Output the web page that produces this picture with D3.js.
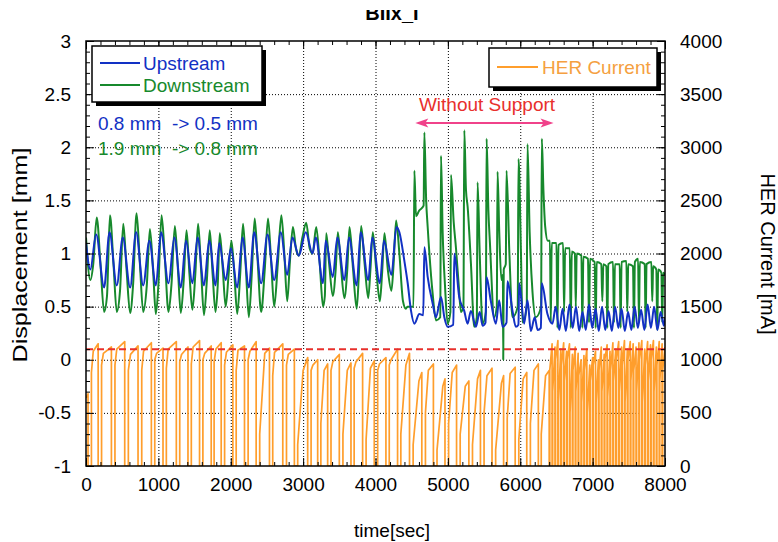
<!DOCTYPE html>
<html><head><meta charset="utf-8">
<script src="https://cdn.jsdelivr.net/npm/d3@7"></script>
<style>
body{margin:0;background:#fff;}
svg{display:block;font-family:"Liberation Sans",Arial,sans-serif;}
</style>
</head><body>
<svg id="c" width="778" height="542"></svg>
<script>
// ---- data (time [s], value) ----
const downstream = [
[0,1.15],[60,0.75],[100,0.9],[148,1.34],[200,0.9],[250,0.45],[290,0.6],[331,1.36],[380,0.9],[425,0.45],[470,0.65],[515,1.28],[560,0.85],[610,0.44],[650,0.7],[699,1.38],[745,0.9],[790,0.45],[840,0.7],[883,1.23],[930,0.8],[965,0.43],[1000,0.7],[1044,1.36],[1090,0.95],[1140,0.45],[1180,0.7],[1228,1.26],[1270,0.85],[1310,0.44],[1350,0.75],[1389,1.22],[1430,0.8],[1470,0.47],[1510,0.8],[1549,1.28],[1590,0.85],[1630,0.42],[1670,0.75],[1710,1.22],[1750,0.8],[1790,0.45],[1820,0.7],[1848,1.19],[1890,0.85],[1930,0.5],[1970,0.8],[2009,1.12],[2050,0.8],[2090,0.43],[2130,0.8],[2170,1.28],[2210,0.85],[2250,0.4],[2290,0.8],[2331,1.33],[2370,0.95],[2420,0.45],[2470,0.85],[2515,1.33],[2560,0.9],[2600,0.5],[2650,0.9],[2699,1.36],[2740,1.0],[2780,0.55],[2820,0.95],[2859,1.25],[2900,1.05],[2940,0.98],[2990,1.15],[3043,1.29],[3090,1.05],[3130,1.0],[3181,1.25],[3230,0.9],[3275,0.5],[3300,0.6],[3319,1.19],[3360,0.9],[3410,0.6],[3450,0.85],[3480,1.2],[3520,0.9],[3570,0.58],[3610,0.85],[3641,1.25],[3690,0.85],[3740,0.48],[3770,0.8],[3802,1.26],[3850,0.9],[3900,0.58],[3930,0.85],[3963,1.2],[4010,0.85],[4060,0.55],[4090,0.8],[4124,1.19],[4170,0.85],[4220,0.65],[4250,0.9],[4285,1.31],[4330,1.0],[4380,0.55],[4420,0.48],[4440,0.5],
[4525,0.5],[4537,1.78],[4560,1.35],[4600,1.4],[4665,1.45],[4675,2.14],[4700,1.5],[4721,1.25],[4790,0.62],[4836,0.37],[4895,0.4],[4905,1.92],[4928,1.2],[4960,0.7],[4997,0.34],[5035,0.45],[5043,1.74],[5080,1.3],[5112,1.05],[5150,0.7],[5181,0.45],[5215,0.5],[5227,2.16],[5250,1.6],[5273,1.44],[5319,0.9],[5364,0.31],[5400,0.4],[5410,1.67],[5440,1.0],[5479,0.34],[5525,0.45],[5535,2.08],[5560,1.4],[5581,1.1],[5640,0.4],[5676,0.5],[5686,1.77],[5710,1.2],[5740,0.75],[5760,0.8],[5765,0.0],[5772,0.85],[5800,0.9],[5810,1.78],[5850,1.0],[5893,0.4],[5965,0.5],[5976,1.89],[6010,1.0],[6031,0.35],[6090,0.5],[6100,2.03],[6130,1.2],[6169,0.64],[6215,0.4],[6288,0.5],[6298,2.08],[6320,1.6],[6345,1.25],[6380,1.12],
[6410,1.12],[6422,0.35],[6435,1.1],[6500,1.1],[6514,0.3],[6528,1.08],[6592,1.1],[6606,0.45],[6620,1.05],[6684,1.05],[6698,0.3],[6712,1.02],[6755,1.0],[6767,0.5],[6780,1.0],[6845,0.98],[6858,0.3],[6872,0.97],[6936,0.95],[6950,0.35],[6964,0.95],[7028,0.92],[7042,0.3],[7056,0.92],[7120,0.9],[7134,0.55],[7148,0.9],[7190,0.88],[7203,0.3],[7216,0.9],[7282,0.92],[7295,0.35],[7308,0.9],[7374,0.9],[7387,0.3],[7400,0.92],[7466,0.93],[7479,0.45],[7492,0.9],[7558,0.88],[7571,0.3],[7584,0.92],[7628,0.95],[7640,0.35],[7652,0.92],[7720,0.9],[7732,0.3],[7745,0.9],[7812,0.92],[7824,0.55],[7836,0.88],[7880,0.85],[7893,0.28],[7906,0.85],[7950,0.82],[7962,0.35],[7975,0.82],[8000,0.8]
];
const upstream = [
[0,1.1],[60,0.85],[140,1.18],[250,0.68],[325,1.2],[425,0.7],[508,1.15],[610,0.68],[692,1.2],[790,0.7],[876,1.12],[965,0.7],[1037,1.2],[1140,0.72],[1221,1.15],[1310,0.68],[1382,1.12],[1470,0.72],[1542,1.15],[1630,0.7],[1703,1.12],[1790,0.7],[1841,1.1],[1930,0.75],[2002,1.05],[2090,0.68],[2163,1.15],[2250,0.68],[2324,1.2],[2420,0.72],[2508,1.18],[2600,0.75],[2692,1.2],[2780,0.8],[2852,1.15],[2940,0.98],[3036,1.2],[3130,1.0],[3174,1.15],[3275,0.72],[3312,1.12],[3410,0.78],[3473,1.15],[3570,0.75],[3634,1.15],[3740,0.7],[3795,1.2],[3900,0.75],[3956,1.15],[4060,0.72],[4117,1.12],[4220,0.8],[4290,1.25],[4330,1.2],
[4399,0.93],[4445,0.72],[4491,0.46],[4537,0.34],[4606,0.43],[4660,0.42],[4675,1.06],[4721,0.78],[4790,0.53],[4836,0.4],[4905,0.59],[4951,0.4],[4997,0.31],[5075,0.33],[5089,1.0],[5157,0.59],[5226,0.46],[5272,0.34],[5318,0.46],[5387,0.31],[5440,0.45],[5480,0.32],[5520,0.35],[5534,0.78],[5594,0.55],[5663,0.34],[5709,0.56],[5755,0.31],[5810,0.35],[5824,0.74],[5893,0.46],[5939,0.31],[5975,0.33],[5985,0.72],[6054,0.34],[6100,0.56],[6146,0.27],[6200,0.4],[6240,0.28],[6285,0.3],[6297,0.72],[6376,0.43],[6445,0.34],
[6490,0.5],[6540,0.28],[6585,0.48],[6630,0.27],[6680,0.52],[6725,0.3],[6770,0.5],[6815,0.27],[6860,0.45],[6905,0.28],[6950,0.52],[6995,0.3],[7040,0.48],[7085,0.27],[7130,0.5],[7175,0.28],[7220,0.46],[7265,0.27],[7310,0.5],[7355,0.3],[7400,0.48],[7445,0.27],[7490,0.45],[7535,0.28],[7580,0.5],[7625,0.3],[7670,0.47],[7715,0.28],[7760,0.52],[7805,0.3],[7850,0.5],[7895,0.28],[7940,0.45],[7985,0.32],[8000,0.4]
];
const herCurrent = [
[0,640],[28,680],[28,0],[75,0],[75,880],[100,1080],[168,1150],[168,0],
[215,0],[215,950],[240,1060],[351,1120],[351,0],
[400,0],[400,950],[425,1100],[535,1170],[535,0],
[585,0],[585,900],[615,1050],[719,1130],[719,0],
[770,0],[770,900],[795,1080],[903,1160],[903,0],
[950,0],[950,1000],[975,1060],[1064,1110],[1064,0],
[1110,0],[1110,920],[1135,1100],[1248,1170],[1248,0],
[1295,0],[1295,980],[1320,1050],[1409,1120],[1409,0],
[1455,0],[1455,960],[1480,1120],[1569,1180],[1569,0],
[1615,0],[1615,1000],[1640,1060],[1730,1130],[1730,0],
[1770,0],[1770,980],[1795,1100],[1868,1160],[1868,0],
[1915,0],[1915,950],[1940,1070],[2029,1140],[2029,0],
[2075,0],[2075,900],[2100,1090],[2190,1130],[2190,0],
[2240,0],[2240,1000],[2265,1080],[2351,1170],[2351,0],
[2400,0],[2400,300],[2470,1060],[2535,1110],[2535,0],
[2580,0],[2580,850],[2605,1070],[2719,1150],[2719,0],
[2770,0],[2770,950],[2795,1050],[2879,1100],[2879,0],
[2925,0],[2925,200],[3000,900],[3063,1020],[3063,0],
[3110,0],[3110,900],[3135,950],[3201,1000],[3201,0],
[3245,0],[3245,400],[3290,900],[3339,960],[3339,0],
[3385,0],[3385,900],[3410,980],[3500,1050],[3500,0],
[3550,0],[3550,300],[3610,900],[3661,970],[3661,0],
[3705,0],[3705,920],[3730,980],[3822,1060],[3822,0],
[3870,0],[3870,250],[3930,920],[3983,990],[3983,0],
[4030,0],[4030,900],[4055,960],[4144,1020],[4144,0],
[4190,0],[4190,950],[4215,1000],[4305,1100],[4305,0],
[4350,0],[4350,300],[4420,950],[4470,1060],[4470,0],
[4520,0],[4520,200],[4600,800],[4640,880],[4640,0],
[4690,0],[4690,500],[4730,900],[4800,960],[4800,0],
[4850,0],[4850,150],[4930,750],[4960,820],[4960,0],
[5010,0],[5010,400],[5060,880],[5120,950],[5120,0],
[5170,0],[5170,300],[5240,750],[5290,800],[5290,0],
[5340,0],[5340,200],[5410,820],[5450,900],[5450,0],
[5500,0],[5500,500],[5540,850],[5610,920],[5610,0],
[5660,0],[5660,150],[5740,780],[5770,850],[5770,0],
[5820,0],[5820,450],[5860,870],[5930,930],[5930,0],
[5980,0],[5980,250],[6040,820],[6090,880],[6090,0],
[6140,0],[6140,400],[6190,900],[6250,960],[6250,0],
[6290,0],[6290,300],[6350,850],[6400,900],[6400,0],
[6408,0],[6408,900],[6440,1150],[6440,0],[6448,0],[6448,700],[6480,1120],[6480,0],
[6488,0],[6488,1000],[6520,1180],[6520,0],[6528,0],[6528,600],[6560,1100],[6560,0],
[6568,0],[6568,950],[6600,1160],[6600,0],[6608,0],[6608,800],[6640,1080],[6640,0],
[6648,0],[6648,1000],[6680,1150],[6680,0],[6688,0],[6688,500],[6720,1050],[6720,0],
[6728,0],[6728,900],[6760,1120],[6760,0],[6768,0],[6768,700],[6800,1060],[6800,0],
[6808,0],[6808,850],[6840,1000],[6840,0],[6848,0],[6848,600],[6880,1040],[6880,0],
[6888,0],[6888,900],[6920,1100],[6920,0],[6928,0],[6928,500],[6960,950],[6960,0],
[6968,0],[6968,800],[7000,1020],[7000,0],[7008,0],[7008,950],[7040,1080],[7040,0],
[7048,0],[7048,600],[7080,1000],[7080,0],[7088,0],[7088,900],[7120,1120],[7120,0],
[7128,0],[7128,700],[7160,1050],[7160,0],[7168,0],[7168,1000],[7200,1140],[7200,0],
[7208,0],[7208,650],[7240,1080],[7240,0],[7248,0],[7248,900],[7280,1160],[7280,0],
[7288,0],[7288,800],[7320,1100],[7320,0],[7328,0],[7328,1000],[7360,1170],[7360,0],
[7368,0],[7368,700],[7400,1120],[7400,0],[7408,0],[7408,950],[7440,1180],[7440,0],
[7448,0],[7448,600],[7480,1100],[7480,0],[7488,0],[7488,1000],[7520,1170],[7520,0],
[7528,0],[7528,800],[7560,1150],[7560,0],[7568,0],[7568,900],[7600,1120],[7600,0],
[7608,0],[7608,700],[7640,1160],[7640,0],[7648,0],[7648,1000],[7680,1180],[7680,0],
[7688,0],[7688,600],[7720,1100],[7720,0],[7728,0],[7728,950],[7760,1170],[7760,0],
[7768,0],[7768,800],[7800,1140],[7800,0],[7808,0],[7808,1000],[7840,1180],[7840,0],
[7848,0],[7848,700],[7880,1120],[7880,0],[7888,0],[7888,950],[7920,1170],[7920,0],
[7928,0],[7928,800],[7960,1150],[7960,0],[7968,0],[7968,900],[8000,1120]
];
const xTicks = [0,1000,2000,3000,4000,5000,6000,7000,8000];
const yTicks = [-1,-0.5,0,0.5,1,1.5,2,2.5,3];
const y2Ticks = [0,500,1000,1500,2000,2500,3000,3500,4000];
const thresholdLevel = 0.1;
const supportSpan = [4550, 6460];
const legendLeft = ["Upstream","Downstream"];
const notes = ["0.8 mm  -> 0.5 mm","1.9 mm  -> 0.8 mm"];

// ---- layout ----
const L=86, R=665, T=41, B=466;
const C = {up:"#1231c4", dn:"#17892c", her:"#ff9e2c", red:"#e8302c", pink:"#f0428a"};
const svg = d3.select("#c");
const x = d3.scaleLinear().domain([0,8000]).range([L,R]);
const y = d3.scaleLinear().domain([-1,3]).range([B,T]);
const y2 = d3.scaleLinear().domain([0,4000]).range([B,T]);

svg.append("defs").append("clipPath").attr("id","clip")
  .append("rect").attr("x",L).attr("y",T).attr("width",R-L).attr("height",B-T);

// grid
const grid = svg.append("g");
grid.append("g").attr("transform",`translate(0,${B})`)
  .call(d3.axisBottom(x).tickValues(xTicks.slice(1,-1)).tickSize(-(B-T)).tickFormat(""))
  .call(g=>g.select(".domain").remove())
  .selectAll("line").attr("stroke","#000").attr("stroke-dasharray","1,2").attr("stroke-width",1);
grid.append("g").attr("transform",`translate(${L},0)`)
  .call(d3.axisLeft(y).tickValues(yTicks.slice(1,-1)).tickSize(-(R-L)).tickFormat(""))
  .call(g=>g.select(".domain").remove())
  .selectAll("line").attr("stroke","#000").attr("stroke-dasharray","1,2").attr("stroke-width",1);

// data
const plot = svg.append("g").attr("clip-path","url(#clip)");
plot.append("path").datum(herCurrent)
  .attr("d", d3.line().x(d=>x(d[0])).y(d=>y2(d[1])))
  .attr("fill","none").attr("stroke",C.her).attr("stroke-width",1.7).attr("stroke-linejoin","round");
plot.append("path").datum([[0,thresholdLevel],[8000,thresholdLevel]])
  .attr("d", d3.line().x(d=>x(d[0])).y(d=>y(d[1])))
  .attr("stroke",C.red).attr("stroke-width",2).attr("stroke-dasharray","7,4");
const smooth = d3.line().curve(d3.curveMonotoneX).x(d=>x(d[0])).y(d=>y(d[1]));
plot.append("path").datum(downstream).attr("d", smooth)
  .attr("fill","none").attr("stroke",C.dn).attr("stroke-width",2).attr("stroke-linejoin","round");
plot.append("path").datum(upstream).attr("d", smooth)
  .attr("fill","none").attr("stroke",C.up).attr("stroke-width",2).attr("stroke-linejoin","round");

// inner ticks
function ticks(axis, tr, vals, size){
  svg.append("g").attr("transform",tr).call(axis.tickValues(vals).tickSize(size).tickFormat(""))
    .call(g=>g.select(".domain").remove())
    .selectAll("line").attr("stroke","#000").attr("stroke-width",1);
}
const xMinor = d3.range(0,8001,200), yMinor = d3.range(-10,31,1).map(v=>v/10), y2Minor = d3.range(0,4001,100);
ticks(d3.axisTop(x), `translate(0,${B})`, xMinor, 4);
ticks(d3.axisTop(x), `translate(0,${B})`, xTicks, 8);
ticks(d3.axisBottom(x), `translate(0,${T})`, xMinor, 4);
ticks(d3.axisBottom(x), `translate(0,${T})`, xTicks, 8);
ticks(d3.axisRight(y), `translate(${L},0)`, yMinor, 4);
ticks(d3.axisRight(y), `translate(${L},0)`, yTicks, 8);
ticks(d3.axisLeft(y2), `translate(${R},0)`, y2Minor, 4);
ticks(d3.axisLeft(y2), `translate(${R},0)`, y2Ticks, 8);

// frame
svg.append("rect").attr("x",L).attr("y",T).attr("width",R-L).attr("height",B-T)
  .attr("fill","none").attr("stroke","#000").attr("stroke-width",1.5);

// tick labels
function labels(axis, tr, vals, pad, fmt){
  const g = svg.append("g").attr("transform",tr)
    .call(axis.tickValues(vals).tickSize(0).tickPadding(pad).tickFormat(fmt));
  g.select(".domain").remove();
  g.selectAll("text").attr("font-size",19).attr("fill","#000").style("font-family","'Liberation Sans',Arial,sans-serif");
}
labels(d3.axisLeft(y), `translate(${L},0)`, yTicks, 15, d=>String(d));
labels(d3.axisRight(y2), `translate(${R},0)`, y2Ticks, 15, d=>String(d));
labels(d3.axisBottom(x), `translate(0,${B})`, xTicks, 12, d=>String(d));

// axis titles
svg.append("text").attr("transform","translate(27,255) rotate(-90)").attr("text-anchor","middle")
  .attr("font-size",20).attr("textLength",215).attr("lengthAdjust","spacingAndGlyphs").text("Displacement [mm]");
svg.append("text").attr("transform","translate(761,254) rotate(90)").attr("text-anchor","middle")
  .attr("font-size",20).text("HER Current [mA]");
svg.append("text").attr("x",392).attr("y",537).attr("text-anchor","middle")
  .attr("font-size",19).text("time[sec]");

// title (top clipped as in reference)
svg.append("text").attr("x",392).attr("y",20).attr("text-anchor","middle")
  .attr("font-size",20).attr("font-weight","bold").text("BIIx_I");
svg.append("rect").attr("x",0).attr("y",0).attr("width",778).attr("height",10).attr("fill","#fff");

// legend left
const lg = svg.append("g");
lg.append("rect").attr("x",96).attr("y",50).attr("width",170).attr("height",56).attr("fill","#000");
lg.append("rect").attr("x",92).attr("y",46).attr("width",170).attr("height",56).attr("fill","#fff").attr("stroke","#000").attr("stroke-width",1.5);
[[C.up,63],[C.dn,85]].forEach((c,i)=>{
  lg.append("line").attr("x1",100).attr("x2",140).attr("y1",c[1]).attr("y2",c[1]).attr("stroke",c[0]).attr("stroke-width",2);
  lg.append("text").attr("x",143).attr("y",c[1]+7).attr("font-size",19).attr("fill",c[0]).text(legendLeft[i]);
});
// legend right
const lg2 = svg.append("g");
lg2.append("rect").attr("x",493).attr("y",52).attr("width",168).attr("height",39).attr("fill","#000");
lg2.append("rect").attr("x",489).attr("y",48).attr("width",168).attr("height",39).attr("fill","#fff").attr("stroke","#000").attr("stroke-width",1.5);
lg2.append("line").attr("x1",497).attr("x2",538).attr("y1",67).attr("y2",67).attr("stroke",C.her).attr("stroke-width",2);
lg2.append("text").attr("x",542).attr("y",74).attr("font-size",19).attr("fill","#f5a040").text("HER Current");

// notes
svg.append("text").attr("x",98).attr("y",130).attr("font-size",19).attr("fill",C.up).style("white-space","pre").text(notes[0]);
svg.append("text").attr("x",98).attr("y",155).attr("font-size",19).attr("fill",C.dn).style("white-space","pre").text(notes[1]);

// without support annotation
svg.append("text").attr("x",487).attr("y",111).attr("text-anchor","middle").attr("font-size",19).attr("fill",C.red).text("Without Support");
const ay = 123, ax1 = x(supportSpan[0]), ax2 = x(supportSpan[1]);
svg.append("line").attr("x1",ax1+4).attr("x2",ax2-4).attr("y1",ay).attr("y2",ay).attr("stroke",C.pink).attr("stroke-width",2);
svg.append("path").attr("d",`M${ax1},${ay} L${ax1+13},${ay-4.5} L${ax1+10},${ay} L${ax1+13},${ay+4.5} Z`).attr("fill",C.pink);
svg.append("path").attr("d",`M${ax2},${ay} L${ax2-13},${ay-4.5} L${ax2-10},${ay} L${ax2-13},${ay+4.5} Z`).attr("fill",C.pink);
</script>
</body></html>
